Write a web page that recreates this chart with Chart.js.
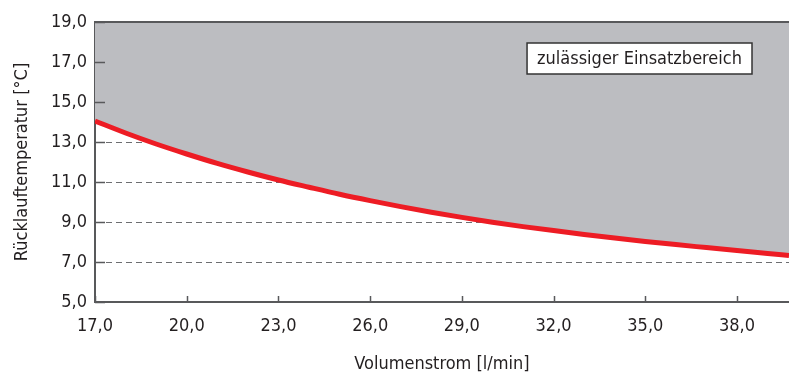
<!DOCTYPE html>
<html lang="de">
<head>
<meta charset="utf-8">
<title>Rücklauftemperatur</title>
<script src="https://cdn.jsdelivr.net/npm/chart.js@4.4.1/dist/chart.umd.min.js"></script>
<style>
  html, body { margin: 0; padding: 0; background: #fff; }
  #wrap { position: relative; width: 789px; height: 374px; }
</style>
</head>
<body>
<div id="wrap"><canvas id="einsatz"></canvas></div>
<script>
// Volumenstrom [l/min] und minimale Rücklauftemperatur [°C]
var volumenstrom = [17, 18, 19, 20, 21, 22, 23, 24, 25, 26, 27, 28, 29, 30, 31, 32, 33, 34, 35, 36, 37, 38, 39, 39.7];
var ruecklauf = [14.05, 13.45, 12.9, 12.4, 11.93, 11.5, 11.1, 10.74, 10.39, 10.07, 9.77, 9.49, 9.23, 8.99, 8.77, 8.57, 8.38, 8.2, 8.03, 7.87, 7.72, 7.57, 7.43, 7.33];

// Achsenbeschriftung
var xTicks = [17, 20, 23, 26, 29, 32, 35, 38];
var yTicks = [5, 7, 9, 11, 13, 15, 17, 19];
var bereichText = 'zulässiger Einsatzbereich';

var schrift = "'Liberation Sans Narrow', 'DejaVu Sans Condensed', 'Arial Narrow', sans-serif";
var textFarbe = '#231f20';
var achsFarbe = '#58595b';

var komma = function (v) { return Number(v).toFixed(1).replace('.', ','); };

// kurze Striche nach innen, obere Linie und Textkasten
var rahmenPlugin = {
  id: 'rahmen',
  afterDatasetsDraw: function (chart) {
    var ctx = chart.ctx;
    var a = chart.chartArea;
    var xs = chart.scales.x, ys = chart.scales.y;
    ctx.save();
    ctx.strokeStyle = achsFarbe;
    ctx.lineWidth = 1.5;
    ctx.beginPath();
    yTicks.forEach(function (v) {
      var py = Math.round(ys.getPixelForValue(v)) + 0.5;
      ctx.moveTo(a.left, py);
      ctx.lineTo(a.left + 10, py);
    });
    xTicks.forEach(function (v) {
      var px = Math.round(xs.getPixelForValue(v)) + 0.5;
      ctx.moveTo(px, a.bottom);
      ctx.lineTo(px, a.bottom - 6);
    });
    ctx.stroke();

    // obere Begrenzung
    ctx.lineWidth = 2;
    ctx.beginPath();
    ctx.moveTo(a.left, a.top);
    ctx.lineTo(a.right, a.top);
    ctx.stroke();

    // Kasten "zulässiger Einsatzbereich"
    ctx.font = '18px ' + schrift;
    var w = ctx.measureText(bereichText).width + 20;
    var h = 31;
    var bx = a.right - 37 - w;
    var by = a.top + 21;
    ctx.fillStyle = '#fff';
    ctx.fillRect(bx, by, w, h);
    ctx.strokeStyle = '#333';
    ctx.lineWidth = 1.5;
    ctx.strokeRect(bx, by, w, h);
    ctx.fillStyle = textFarbe;
    ctx.textAlign = 'center';
    ctx.textBaseline = 'middle';
    ctx.fillText(bereichText, bx + w / 2, by + h / 2 + 1);
    ctx.restore();
  }
};

var punkte = volumenstrom.map(function (x, i) { return { x: x, y: ruecklauf[i] }; });

var config = {
  type: 'line',
  data: {
    datasets: [{
      data: punkte,
      borderColor: '#ed1c24',
      borderWidth: 5,
      backgroundColor: '#bcbdc1',
      fill: 'end',
      pointRadius: 0,
      cubicInterpolationMode: 'monotone'
    }]
  },
  options: {
    responsive: true,
    maintainAspectRatio: false,
    animation: false,
    layout: { padding: { top: 22, right: 0, left: 0, bottom: 0 } },
    plugins: {
      legend: { display: false },
      tooltip: { enabled: false }
    },
    scales: {
      x: {
        type: 'linear',
        min: 17,
        max: 39.7,
        afterBuildTicks: function (scale) {
          scale.ticks = xTicks.map(function (v) { return { value: v }; });
        },
        afterFit: function (scale) { scale.height = 72; },
        grid: { display: false, drawTicks: false },
        border: { color: achsFarbe, width: 2 },
        ticks: {
          color: textFarbe,
          padding: 14,
          maxRotation: 0,
          font: { family: schrift, size: 18 },
          callback: komma
        },
        title: {
          display: true,
          text: 'Volumenstrom [l/min]',
          color: textFarbe,
          font: { family: schrift, size: 18, lineHeight: 1.1 },
          padding: { top: 0, bottom: 0 }
        }
      },
      y: {
        min: 5,
        max: 19,
        afterBuildTicks: function (scale) {
          scale.ticks = yTicks.map(function (v) { return { value: v }; });
        },
        afterFit: function (scale) { scale.width = 95; },
        grid: {
          drawTicks: false,
          color: '#6d6e71',
          lineWidth: 1
        },
        border: { color: achsFarbe, width: 2, dash: [6, 4] },
        ticks: {
          color: textFarbe,
          padding: 8,
          font: { family: schrift, size: 18 },
          callback: komma
        },
        title: {
          display: true,
          text: 'Rücklauftemperatur [°C]',
          color: textFarbe,
          font: { family: schrift, size: 18 },
          padding: { top: 12, bottom: 0 }
        }
      }
    }
  },
  plugins: [rahmenPlugin]
};

new Chart(document.getElementById('einsatz').getContext('2d'), config);
</script>
</body>
</html>
